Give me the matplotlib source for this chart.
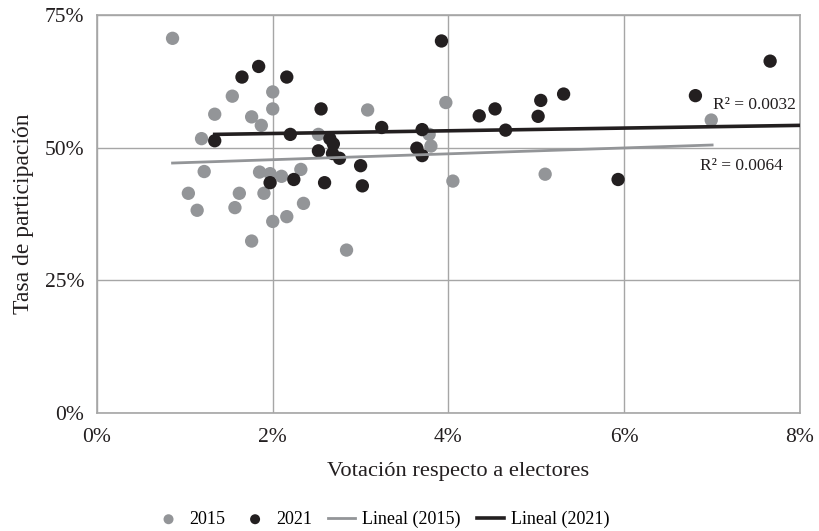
import numpy as np
import matplotlib
matplotlib.use("Agg")
import matplotlib.pyplot as plt
from matplotlib.ticker import FuncFormatter

plt.rcParams['font.family'] = ['Liberation Serif', 'DejaVu Serif']

# vote share relative to registered voters (%) and turnout (%)
x_2015 = [0.86, 1.54, 1.34, 1.76, 2.00, 2.00, 1.87, 1.19, 1.22, 1.85, 1.97, 2.10,
          1.04, 1.62, 1.90, 1.14, 1.57, 2.00, 2.16, 1.76, 2.35, 2.32, 2.84, 3.80,
          4.05, 3.08, 3.97, 2.52, 3.78, 6.99, 5.10]
y_2015 = [70.6, 59.7, 56.3, 55.8, 60.5, 57.3, 54.2, 51.7, 45.5, 45.4, 45.1, 44.6,
          41.4, 41.4, 41.4, 38.2, 38.7, 36.1, 37.0, 32.4, 39.5, 45.9, 30.7, 50.3,
          43.7, 57.1, 58.5, 52.5, 52.5, 55.2, 45.0]

x_2021 = [1.84, 1.65, 2.16, 1.34, 2.20, 1.97, 2.24, 2.59, 2.52, 2.65, 2.69, 2.68,
          2.76, 3.00, 3.02, 3.64, 3.70, 3.92, 2.55, 3.24, 3.70, 7.66, 6.81, 5.31,
          5.05, 5.02, 4.53, 4.35, 4.65, 5.93]
y_2021 = [65.3, 63.3, 63.3, 51.3, 52.5, 43.4, 44.0, 43.4, 49.4, 51.7, 50.7, 48.9,
          48.0, 46.6, 42.8, 49.9, 48.5, 70.1, 57.3, 53.8, 53.4, 66.3, 59.8, 60.1,
          58.9, 55.9, 57.3, 56.0, 53.3, 44.0]

# trend lines: (x start, x end, y start, y end)
trend_2015 = [0.86, 7.0, 47.1, 50.5]
trend_2021 = [1.34, 8.0, 52.5, 54.2]
r2_labels = ["R\u00b2 = 0.0064", "R\u00b2 = 0.0032"]

gray = '#939598'
black = '#231f20'
grid = '#a6a6a6'

fig = plt.figure(figsize=(8.19, 5.31), dpi=100)
ax = fig.add_axes([0.1184, 0.2222, 0.8584, 0.7496])

ax.scatter(x_2015, y_2015, s=92, color=gray, edgecolors='none', zorder=3, label='2015')
ax.scatter(x_2021, y_2021, s=92, color=black, edgecolors='none', zorder=4, label='2021')
ax.plot(trend_2015[:2], trend_2015[2:], color=gray, lw=2, zorder=5, label='Lineal (2015)')
ax.plot(trend_2021[:2], trend_2021[2:], color=black, lw=2.6, zorder=5, label='Lineal (2021)')

ax.text(7.95, 58.0, r2_labels[1], ha='right', va='center', fontsize=12.5, color=black)
ax.text(7.8, 46.5, r2_labels[0], ha='right', va='center', fontsize=12.5, color=black)

ax.set_xlim(0, 8)
ax.set_ylim(0, 75)
ax.set_xticks([0, 2, 4, 6, 8])
ax.set_yticks([0, 25, 50, 75])
ax.xaxis.set_major_formatter(FuncFormatter(lambda v, p: f"{v:.0f}%"))
ax.yaxis.set_major_formatter(FuncFormatter(lambda v, p: f"{v:.0f}%"))
ax.tick_params(length=0, labelsize=15.5, colors='#231f20')
ax.tick_params(axis='x', pad=11)
ax.tick_params(axis='y', pad=9)
ax.grid(True, color=grid, lw=1)
ax.set_axisbelow(True)
for s in ax.spines.values():
    s.set_color(grid)
    s.set_linewidth(1.2)

ax.set_xlabel("Votación respecto a electores", fontsize=16.2, color='#231f20')
ax.xaxis.set_label_coords(0.5135, -0.122)
ax.set_ylabel("Tasa de participación", fontsize=17, color='#231f20', labelpad=8)

fig.legend(loc='lower center', bbox_to_anchor=(0.467, -0.025), ncol=4, frameon=False,
           fontsize=13, handlelength=1.5, columnspacing=0.9, handletextpad=0.4,
           markerscale=0.75)

fig.savefig('out.png', dpi=100)
